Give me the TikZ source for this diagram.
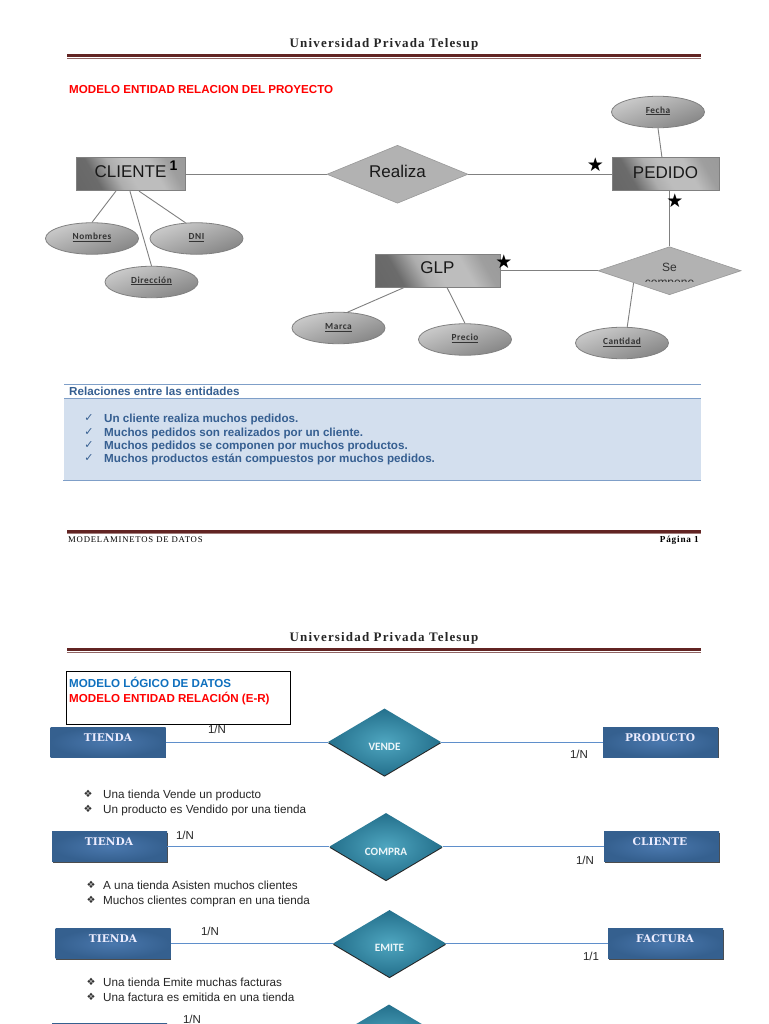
\documentclass[tikz,border=0pt]{standalone}
\usepackage{fontspec}
\setmainfont{Liberation Sans}
\newfontfamily\titlefont[LetterSpace=9]{Liberation Serif}
\newfontfamily\footfont[LetterSpace=9]{Liberation Serif}
\newfontfamily\boxfont{DejaVu Serif}
\newfontfamily\attrfont[LetterSpace=6]{Carlito}
\newfontfamily\diafont{Carlito}
\newfontfamily\symfont{DejaVu Sans}
\usetikzlibrary{shapes.geometric,shadows,calc}
\definecolor{rulered}{HTML}{622423}
\definecolor{ruleblue}{HTML}{7F9FC8}
\definecolor{bandblue}{HTML}{D3DFEE}
\definecolor{headblue}{HTML}{365F91}
\definecolor{boxblue}{HTML}{35608F}
\definecolor{boxlight}{HTML}{4A78AE}
\definecolor{teal1}{HTML}{4FA6C0}
\definecolor{teal2}{HTML}{24708C}
\definecolor{linkblue}{HTML}{5F8FCB}
\definecolor{grayline}{HTML}{808080}
\definecolor{logicblue}{HTML}{0F70BE}
\newcommand{\fs}[1]{\fontsize{#1}{#1}\selectfont}
\pgfdeclarehorizontalshading{gentshade}{100bp}{color(0bp)=(black!62); color(30bp)=(black!58); color(42bp)=(black!32); color(50bp)=(black!26); color(64bp)=(black!26); color(74bp)=(black!38); color(100bp)=(black!42)}
\tikzset{
  gent/.style={draw=grayline,line width=.8pt,rectangle,inner sep=0pt,
    shading=gentshade,shading angle=30},
  grel/.style={diamond,draw=grayline!80,line width=.6pt,fill=black!30,inner sep=0pt},
  gattr/.style={ellipse,draw=grayline,line width=.8pt,inner sep=0pt,minimum width=93pt,minimum height=31.5pt,
    shading=axis,top color=black!20,bottom color=black!48,shading angle=20},
  attrtext/.style={inner sep=0pt,font=\attrfont\bfseries\fs{9.3},text=black!80},
  glink/.style={draw=grayline,line width=.9pt},
  bent/.style={rectangle,inner sep=0pt,minimum width=115pt,minimum height=30pt,
    inner color=boxlight,outer color=boxblue,
    general shadow={fill=black!70,shadow xshift=.8pt,shadow yshift=-1.2pt}},
  brel/.style={diamond,inner sep=0pt,minimum width=113pt,minimum height=67pt,
    inner color=teal1,outer color=teal2,
    general shadow={fill=black!85,shadow xshift=0pt,shadow yshift=-1.2pt}},
  blink/.style={draw=linkblue,line width=1pt},
  benttext/.style={inner sep=0pt,text=white!93!blue,font=\boxfont\bfseries\fs{10.6}},
  breltext/.style={inner sep=0pt,text=white!90!teal1,font=\diafont\bfseries\fs{11.2}},
  card/.style={inner sep=0pt,font=\fs{11.5},text=black!85},
  entitytext/.style={inner sep=0pt,font=\fs{17},text=black!90},
  star/.style={inner sep=0pt,font=\symfont\fs{19},text=black},
  listtext/.style={anchor=west,yshift=-2pt,inner sep=0pt,text height=8.3pt,text depth=2.4pt,font=\fs{11.7},text=black!85},
  sym/.style={inner sep=0pt,font=\symfont\fs{10},text=black!80},
  reltext/.style={anchor=west,yshift=-2pt,inner sep=0pt,text height=8.3pt,text depth=2.4pt,font=\bfseries\fs{11.65},text=headblue},
  headtext/.style={anchor=west,inner sep=0pt,text height=8.3pt,text depth=0pt,font=\bfseries\fs{11.6}},
  pagetitle/.style={inner sep=0pt,font=\titlefont\bfseries\fs{13},text=black!85},
  foot/.style={inner sep=0pt,font=\footfont\fs{8.7},text=black}
}
\begin{document}
\begin{tikzpicture}[x=1pt,y=-1pt]
\useasboundingbox (0,0) rectangle (768,1024);
\clip (0,0) rectangle (768,1024);
\fill[white] (0,0) rectangle (768,1024);

% ---------- page 1 header
\node[pagetitle] (title1) at (384,44.5) {Universidad Privada Telesup};
\fill[rulered] (67,54) rectangle (701,57.2);
\fill[rulered!70] (67,57.6) rectangle (701,58.2);
\node[headtext,text=red] (h1) at (69,89) {MODELO ENTIDAD RELACION DEL PROYECTO};

% ---------- ER diagram
\node[gent,minimum width=109pt,minimum height=33pt] (cliente) at (130.5,174.25) {};
\node[entitytext] (clientet) at (130.5,172) {CLIENTE};
\node[grel,minimum width=141pt,minimum height=58pt] (realiza) at (397.5,174.25) {};
\node[entitytext] (realizat) at (397.5,171) {Realiza};
\node[gent,minimum width=107pt,minimum height=33pt] (pedido) at (665.5,174.25) {};
\node[entitytext] (pedidot) at (665.5,172.5) {PEDIDO};
\node[gent,minimum width=125pt,minimum height=33pt] (glp) at (437.5,270.75) {};
\node[entitytext] (glpt) at (437.5,268) {GLP};
\node[grel,minimum width=143pt,minimum height=48pt] (se) at (669.5,270.75) {};
\node[inner sep=0pt,font=\fs{12},text=black!80] (set) at (669.5,267) {Se};
\begin{scope}
  \clip (640,278) rectangle (700,281.8);
  \node[inner sep=0pt,font=\fs{12},text=black!80] (compone) at (669.5,284.5) {compone};
\end{scope}

\node[gattr] (fecha) at (658,112) {};
\node[attrtext] (fechat) at (658,111) {\underline{Fecha}};
\node[gattr] (nombres) at (92,238.5) {};
\node[attrtext] (nombrest) at (92,237.5) {\underline{Nombres}};
\node[gattr] (dni) at (196.5,238.5) {};
\node[attrtext] (dnit) at (196.5,237.5) {\underline{DNI}};
\node[gattr] (direccion) at (151.5,282) {};
\node[attrtext] (selt) at (151.5,281) {\underline{Dirección}};
\node[gattr] (marca) at (338.5,328) {};
\node[attrtext] (marcat) at (338.5,327.5) {\underline{Marca}};
\node[gattr] (precio) at (465,339.5) {};
\node[attrtext] (preciot) at (465,338.5) {\underline{Precio}};
\node[gattr] (cantidad) at (622,343) {};
\node[attrtext] (cantidadt) at (622,342.5) {\underline{Cantidad}};

\draw[glink] (cliente.east) -- (realiza.west);
\draw[glink] (realiza.east) -- (pedido.west);
\draw[glink] (glp.east) -- (se.west);
\draw[glink] (se.north) -- (se.north |- pedido.south);
\draw[glink] ($(cliente.south west)!.367!(cliente.south east)$) -- (nombres.north);
\draw[glink] ($(cliente.south west)!.495!(cliente.south east)$) -- (direccion.north);
\draw[glink] ($(cliente.south west)!.578!(cliente.south east)$) -- (dni.125);
\draw[glink] (fecha.south) -- ($(pedido.north west)!.467!(pedido.north east)$);
\draw[glink] ($(glp.south west)!.232!(glp.south east)$) -- (marca.60);
\draw[glink] ($(glp.south west)!.576!(glp.south east)$) -- (precio.north);
\draw[glink] (se.south west) -- (cantidad.72);

\node[inner sep=0pt,font=\bfseries\fs{14},text=black] (uno) at (173.5,166) {1};
\node[star] (st1) at (595.5,165) {★};
\node[star] (st2) at (675,200.5) {★};
\node[star] (st3) at (504,262) {★};

% ---------- relations band
\fill[bandblue] (64,398) rectangle (701,481);
\draw[ruleblue,line width=.9pt] (64,384) -- (701,384);
\draw[ruleblue,line width=.9pt] (64,398) -- (701,398);
\draw[ruleblue,line width=.9pt] (63,480.5) -- (701,480.5);
\node[reltext] (rel0) at (69,391) {Relaciones entre las entidades};
\node[sym,text=headblue,font=\symfont\fs{11}] (c1) at (89,418) {✓};
\node[sym,text=headblue,font=\symfont\fs{11}] (c2) at (89,432) {✓};
\node[sym,text=headblue,font=\symfont\fs{11}] (c3) at (89,445) {✓};
\node[sym,text=headblue,font=\symfont\fs{11}] (c4) at (89,458) {✓};
\node[reltext] (r1) at (104,418) {Un cliente realiza muchos pedidos.};
\node[reltext] (r2) at (104,432) {Muchos pedidos son realizados por un cliente.};
\node[reltext] (r3) at (104,445) {Muchos pedidos se componen por muchos productos.};
\node[reltext] (r4) at (104,458) {Muchos productos están compuestos por muchos pedidos.};

% ---------- page 1 footer
\fill[rulered] (67,530) rectangle (701,533);
\fill[rulered!60] (67,533.4) rectangle (701,534);
\node[foot,anchor=west] (foot1) at (68,540) {MODELAMINETOS DE DATOS};
\node[foot,anchor=east,font=\footfont\bfseries\fs{9.2}] (foot2) at (699,540) {Página 1};

% ---------- page 2 header
\node[pagetitle] (title2) at (384,638.5) {Universidad Privada Telesup};
\fill[rulered] (67,648) rectangle (701,651.2);
\fill[rulered!70] (67,651.6) rectangle (701,652.2);

\node[draw=black,line width=.8pt,rectangle,inner sep=0pt,minimum width=224pt,minimum height=53pt] (hbox) at (178,697.5) {};
\node[headtext,text=logicblue] (h2) at (69,683) {MODELO LÓGICO DE DATOS};
\node[headtext,text=red] (h3) at (69,698) {MODELO ENTIDAD RELACIÓN (E-R)};

% row 1
\node[bent] (t1) at (108,742) {};
\node[benttext] (t1t) at (108,738) {TIENDA};
\node[brel] (vende) at (384.5,742) {};
\node[breltext] (vendet) at (384.5,747) {VENDE};
\node[bent] (producto) at (660.5,742) {};
\node[benttext] (productot) at (660,738) {PRODUCTO};
\draw[blink] (t1.east) -- (vende.west);
\draw[blink] (vende.east) -- (producto.west);
\node[card] (n1) at (217,729) {1/N};
\node[card] (n2) at (579,754) {1/N};
\node[sym] (b1) at (88,794) {❖};
\node[sym] (b2) at (88,809) {❖};
\node[listtext] (l1) at (103,794) {Una tienda Vende un producto};
\node[listtext] (l2) at (103,809) {Un producto es Vendido por una tienda};

% row 2
\node[bent] (t2) at (109.5,846.5) {};
\node[benttext] (t2t) at (109,842) {TIENDA};
\node[brel] (compra) at (386,846.5) {};
\node[breltext] (comprat) at (386,852) {COMPRA};
\node[bent] (clienteb) at (661.5,846.5) {};
\node[benttext] (clientebt) at (660,842) {CLIENTE};
\draw[blink] (t2.east) -- (compra.west);
\draw[blink] (compra.east) -- (clienteb.west);
\node[card] (n3) at (185,835) {1/N};
\node[card] (n4) at (585,860) {1/N};
\node[sym] (b3) at (91,885) {❖};
\node[sym] (b4) at (91,900) {❖};
\node[listtext] (l3) at (103,885) {A una tienda Asisten  muchos clientes};
\node[listtext] (l4) at (103,900) {Muchos clientes compran en una tienda};

% row 3
\node[bent] (t3) at (113,943.5) {};
\node[benttext] (t3t) at (113,939) {TIENDA};
\node[brel] (emite) at (389.5,943.5) {};
\node[breltext] (emitet) at (389.5,948) {EMITE};
\node[bent] (factura) at (665.5,943.5) {};
\node[benttext] (facturat) at (665,939) {FACTURA};
\draw[blink] (t3.east) -- (emite.west);
\draw[blink] (emite.east) -- (factura.west);
\node[card] (n5) at (210,931) {1/N};
\node[card] (n6) at (591,956) {1/1};
\node[sym] (b5) at (91,982) {❖};
\node[sym] (b6) at (91,997) {❖};
\node[listtext] (l5) at (103,982) {Una tienda Emite muchas facturas};
\node[listtext] (l6) at (103,997) {Una factura es emitida en una tienda};

% row 4 (cut by the page edge)
\node[bent] (t4) at (109.5,1038) {};
\node[brel] (rel4) at (389,1038) {};
\node[card] (n7) at (192,1019) {1/N};
\end{tikzpicture}
\end{document}
